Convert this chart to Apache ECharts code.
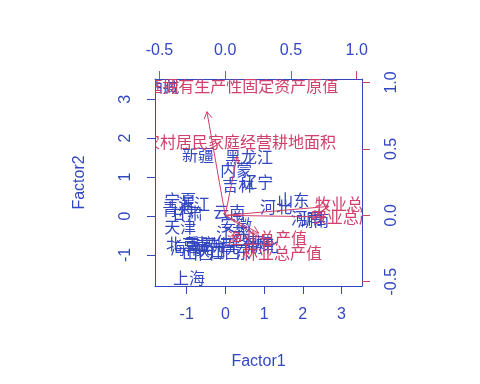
<!DOCTYPE html>
<html><head><meta charset="utf-8">
<script src="https://cdn.jsdelivr.net/npm/echarts@6/dist/echarts.min.js"></script>
<style>html,body{margin:0;padding:0;background:#fff}#c{width:480px;height:384px}</style>
</head><body><div id="c"></div>
<script>
const provinces = ['北京','天津','河北','山西','内蒙','辽宁','吉林','黑龙江','上海','江苏','浙江','安徽','福建','江西','山东','河南','湖北','湖南','广东','广西','海南','重庆','四川','贵州','云南','西藏','陕西','甘肃','青海','宁夏','新疆'];
const factor1 = [-1.12,-1.17,1.31,-0.71,0.28,0.82,0.33,0.61,-0.94,0.17,-0.81,0.28,0.84,-0.03,1.75,2.11,0.95,2.27,0.25,-0.14,-1.02,-0.65,0.64,-0.40,0.10,-1.61,-0.40,-0.99,-1.22,-1.17,-0.71];
const factor2 = [-0.72,-0.28,0.23,-0.95,1.18,0.87,0.80,1.52,-1.59,-0.44,0.31,-0.23,-0.69,-0.93,0.41,-0.05,-0.77,-0.10,-0.93,-0.75,-0.82,-0.72,-0.62,-0.72,0.10,3.34,-0.87,0.08,0.18,0.41,1.57];
const variables = ['农村居民家庭拥有生产性固定资产原值','农村居民家庭经营耕地面积','牧业总产值','农业总产值','渔业总产值','林业总产值'];
const load1 = [-0.174,0.112,0.986,0.955,0.317,0.431];
const load2 = [0.975,0.555,0.084,-0.015,-0.167,-0.281];
const bottomTicks = [-1,0,1,2,3];
const leftTicks = [-1,0,1,2,3];
const topTicks = [-0.5,0,0.5,1];
const rightTicks = [-0.5,0,0.5,1];

const BLUE = '#3347c0', RED = '#d0406a';
const FONT = '16px "Noto Sans CJK SC", sans-serif';
const chart = echarts.init(document.getElementById('c'));

function textItem(color){
  return function(params, api){
    const p = api.coord([api.value(0), api.value(1)]);
    return {type:'text', x:p[0], y:p[1], style:{text: api.value(2), fill:color, font:FONT, align:'center', verticalAlign:'middle', textAlign:'center', textVerticalAlign:'middle'}};
  };
}
function axisCommon(color, tickColor, ticks, fmt, rotate, margin){
  return {
    type:'value', scale:false,
    axisLine:{show:true, onZero:false, lineStyle:{color:color, width:1}},
    axisTick:{show:true, inside:false, length:8, customValues:ticks, lineStyle:{color:tickColor, width:1}},
    axisLabel:{show:true, customValues:ticks, color:BLUE, fontSize:16, fontFamily:'Liberation Sans, Arial, sans-serif', formatter:fmt, rotate:rotate, margin:margin},
    splitLine:{show:false}
  };
}
const fmt0 = v => String(Math.round(v));
const fmt1 = v => v.toFixed(1);

const option = {
  animation:false,
  backgroundColor:'#fff',
  grid:{left:155, right:118, top:79, bottom:98, show:false},
  xAxis:[
    Object.assign(axisCommon(BLUE, BLUE, bottomTicks, fmt0, 0, 21), {position:'bottom', min:-1.82, max:3.53, name:'Factor1', nameLocation:'middle', nameGap:68, nameTextStyle:{color:BLUE, fontSize:16, fontFamily:'Liberation Sans, Arial, sans-serif'}}),
    Object.assign(axisCommon(BLUE, RED, topTicks, fmt1, 0, 20), {position:'top', min:-0.534, max:1.04})
  ],
  yAxis:[
    Object.assign(axisCommon(BLUE, BLUE, leftTicks, fmt0, 90, 21), {position:'left', min:-1.80, max:3.52, name:'Factor2', nameLocation:'middle', nameGap:67, nameRotate:90, nameTextStyle:{color:BLUE, fontSize:16, fontFamily:'Liberation Sans, Arial, sans-serif'}}),
    Object.assign(axisCommon(BLUE, RED, rightTicks, fmt1, 90, 22), {position:'right', min:-0.532, max:1.026})
  ],
  series:[
    {type:'custom', xAxisIndex:0, yAxisIndex:0, clip:true, silent:true,
     data: provinces.map((n,i)=>[factor1[i], factor2[i], n]),
     renderItem: textItem(BLUE)},
    {type:'custom', xAxisIndex:1, yAxisIndex:1, clip:true, silent:true,
     data: variables.map((n,i)=>[load1[i], load2[i]]),
     renderItem: function(params, api){
       const o = api.coord([0,0]);
       const t = api.coord([api.value(0)*0.8, api.value(1)*0.8]);
       const ang = Math.atan2(t[1]-o[1], t[0]-o[0]);
       const L = 8, a = Math.PI/6;
       const h1 = [t[0]-L*Math.cos(ang-a), t[1]-L*Math.sin(ang-a)];
       const h2 = [t[0]-L*Math.cos(ang+a), t[1]-L*Math.sin(ang+a)];
       return {type:'group', children:[
         {type:'polyline', shape:{points:[o,t]}, style:{stroke:RED, lineWidth:1, fill:null}},
         {type:'polyline', shape:{points:[h1,t,h2]}, style:{stroke:RED, lineWidth:1, fill:null}}
       ]};
     }},
    {type:'custom', xAxisIndex:1, yAxisIndex:1, clip:true, silent:true,
     data: variables.map((n,i)=>[load1[i], load2[i], n]),
     renderItem: textItem(RED)}
  ]
};
chart.setOption(option);
</script></body></html>
